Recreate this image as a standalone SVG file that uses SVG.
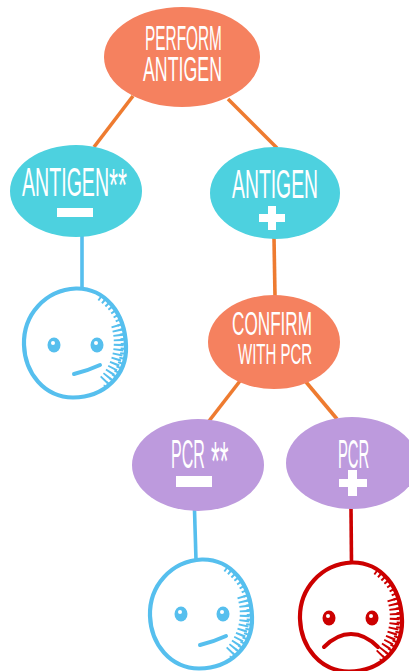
<svg xmlns="http://www.w3.org/2000/svg" xmlns:xlink="http://www.w3.org/1999/xlink" width="409" height="671" viewBox="0 0 409 671">
<style>
text{font-family:"Liberation Sans",sans-serif;fill:#fff;font-size:40px;}
.up{text-transform:uppercase;}
.orange{fill:#F5815F;}
.cyan{fill:#4DD1DF;}
.purple{fill:#BD9ADD;}
.sym{fill:#fff;}
#connectors line{fill:none;stroke-width:3.6;}
.lo{stroke:#EE7B30;}
.lb{stroke:#56BFEE;}
.lr{stroke:#CC0000;}
.outline{fill:none;stroke-width:4.2;stroke-linecap:round;}
.hatch{fill:none;stroke-dasharray:2 2.800;}
.mouth{fill:none;stroke-width:4;stroke-linecap:round;}
</style>
<defs>
<g id="head">
<path class="outline" d="M-51,2C-52,-28-30,-53 1,-54.500C30,-55 50,-30 51,3C52,32 30,54 -2,54.500C-31,54-50,30-51,2Z"/>
<path class="hatch" stroke-width="5" d="M24,-45A51,55 0 0 1 30,44"/>
<path class="hatch" stroke-width="10" d="M41,-18A46,51 0 0 1 28,38"/>
</g>
</defs>
<g id="connectors">
<line class="lo" x1="133" y1="96" x2="94" y2="147"/>
<line class="lo" x1="228" y1="99" x2="277" y2="148"/>
<line class="lo" x1="274" y1="238" x2="275" y2="296"/>
<line class="lo" x1="240" y1="381" x2="209" y2="421"/>
<line class="lo" x1="306" y1="382" x2="337" y2="419"/>
<line class="lb" x1="82" y1="236" x2="82" y2="289"/>
<line class="lb" x1="194.500" y1="510" x2="196" y2="560"/>
<line class="lr" x1="351" y1="508" x2="351.500" y2="563"/>
</g>
<g id="perform-antigen">
<ellipse class="orange" cx="182" cy="57" rx="78" ry="50"/>
<text class="up" font-size="35" style="font-size:35px" transform="translate(145,50) scale(.44,1)">Perform</text>
<text class="up" style="font-size:35px" transform="translate(143,81) scale(.508,1)">Antigen</text>
</g>
<g id="antigen-negative">
<ellipse class="cyan" cx="76" cy="191" rx="66" ry="46"/>
<text transform="translate(22,196) scale(.49,1)">ANTIGEN<tspan font-size="47" style="font-size:47px" dy="5">**</tspan></text>
<rect class="sym" x="57" y="208" width="36" height="9"/>
</g>
<g id="antigen-positive">
<ellipse class="cyan" cx="275" cy="193" rx="65" ry="46"/>
<text transform="translate(232,198) scale(.484,1)">ANTIGEN</text>
<path class="sym" d="M268,206h8v8h9v8h-9v8h-8v-8h-9v-8h9Z"/>
</g>
<g id="confirm-pcr">
<ellipse class="orange" cx="274" cy="342" rx="66" ry="47"/>
<text class="up" style="font-size:33px" transform="translate(232,335) scale(.52,1)">Confirm</text>
<text class="up" style="font-size:30px" transform="translate(238,364) scale(.5,1)">with PCR</text>
</g>
<g id="pcr-negative">
<ellipse class="purple" cx="198" cy="465" rx="66" ry="46"/>
<text transform="translate(171,468) scale(.4,1)">PCR<tspan style="font-size:56px" dy="12"> **</tspan></text>
<rect class="sym" x="176" y="476" width="36" height="11"/>
</g>
<g id="pcr-positive">
<ellipse class="purple" cx="352" cy="463" rx="66" ry="46"/>
<text transform="translate(338,468) scale(.37,1)">PCR</text>
<path class="sym" d="M348,470h9v9h10v8h-10v9h-9v-9h-9v-8h9Z"/>
</g>
<g id="face-neutral-1" transform="translate(75,343)" stroke="#56BFEE">
<use xlink:href="#head" href="#head"/>
<ellipse cx="-21" cy="2" rx="6.500" ry="7.500" fill="#56BFEE" stroke="none"/>
<ellipse cx="22" cy="2" rx="6.500" ry="7.500" fill="#56BFEE" stroke="none"/>
<circle cx="-22" cy="0" r="2" fill="#fff" stroke="none"/>
<circle cx="21" cy="0" r="2" fill="#fff" stroke="none"/>
<path class="mouth" d="M-1,31Q12,28 25,22"/>
</g>
<g id="face-neutral-2" transform="translate(201,614)" stroke="#56BFEE">
<use xlink:href="#head" href="#head"/>
<ellipse cx="-20" cy="0" rx="6.500" ry="7.500" fill="#56BFEE" stroke="none"/>
<ellipse cx="22" cy="0" rx="6.500" ry="7.500" fill="#56BFEE" stroke="none"/>
<circle cx="-21" cy="-2" r="2" fill="#fff" stroke="none"/>
<circle cx="21" cy="-2" r="2" fill="#fff" stroke="none"/>
<path class="mouth" d="M-1,31Q12,28 25,22"/>
</g>
<g id="face-sad" transform="translate(351,617)" stroke="#CC0000">
<use xlink:href="#head" href="#head"/>
<ellipse cx="-22" cy="1" rx="6.500" ry="7.500" fill="#CC0000" stroke="none"/>
<ellipse cx="21" cy="1" rx="6.500" ry="7.500" fill="#CC0000" stroke="none"/>
<circle cx="-23" cy="-1" r="2" fill="#fff" stroke="none"/>
<circle cx="20" cy="-1" r="2" fill="#fff" stroke="none"/>
<path class="mouth" d="M-27,30Q-14,17 0,17Q14,17 27,30"/>
</g>
</svg>
